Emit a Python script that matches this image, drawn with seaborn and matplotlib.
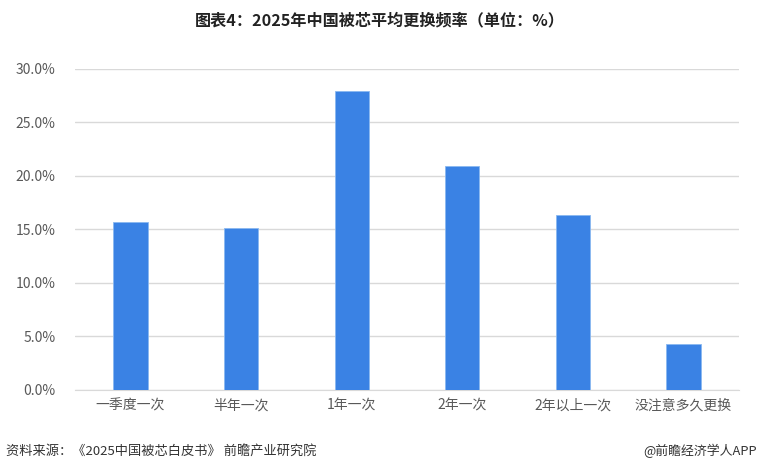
import matplotlib
matplotlib.use("Agg")
import pandas as pd
import seaborn as sns
import matplotlib.pyplot as plt
from matplotlib.ticker import FuncFormatter

# Data
categories = ["一季度一次", "半年一次", "1年一次", "2年一次", "2年以上一次", "没注意多久更换"]
share = [15.7, 15.1, 27.9, 20.9, 16.3, 4.3]

df = pd.DataFrame({"freq": categories, "share": share})

sns.set_style("white")
plt.rcParams["font.family"] = ["Noto Sans CJK SC", "DejaVu Sans"]

fig = plt.figure(figsize=(7.6, 4.72), dpi=100)
ax = fig.add_axes([0.099, 0.174, 0.873, 0.68])

sns.barplot(data=df, x="freq", y="share", color="#3a82e4", width=0.31,
            saturation=1, ax=ax, edgecolor="#8ab8f0", linewidth=0.6, zorder=3)

ax.set_ylim(0, 30)
ax.set_yticks([0, 5, 10, 15, 20, 25, 30])
ax.yaxis.set_major_formatter(FuncFormatter(lambda v, p: f"{v:.1f}%"))
ax.grid(axis="y", color="#d9d9d9", linewidth=1, zorder=0)
ax.set_xlabel("")
ax.set_ylabel("")
for s in ["top", "right", "left"]:
    ax.spines[s].set_visible(False)
ax.spines["bottom"].set_color("#d9d9d9")
ax.tick_params(axis="both", length=0, colors="#595959", labelsize=10)
ax.tick_params(axis="y", pad=14)
ax.tick_params(axis="x", pad=6)

fig.text(0.5, 0.957, "图表4：2025年中国被芯平均更换频率（单位：%）", ha="center", va="center",
         fontsize=11.6, fontweight="bold", color="#222222")
fig.text(0.008, 0.044, "资料来源：《2025中国被芯白皮书》 前瞻产业研究院", ha="left", va="center",
         fontsize=9.5, color="#333333")
fig.text(0.996, 0.044, "@前瞻经济学人APP", ha="right", va="center",
         fontsize=9.3, color="#333333")

fig.savefig("out.png", dpi=100)
